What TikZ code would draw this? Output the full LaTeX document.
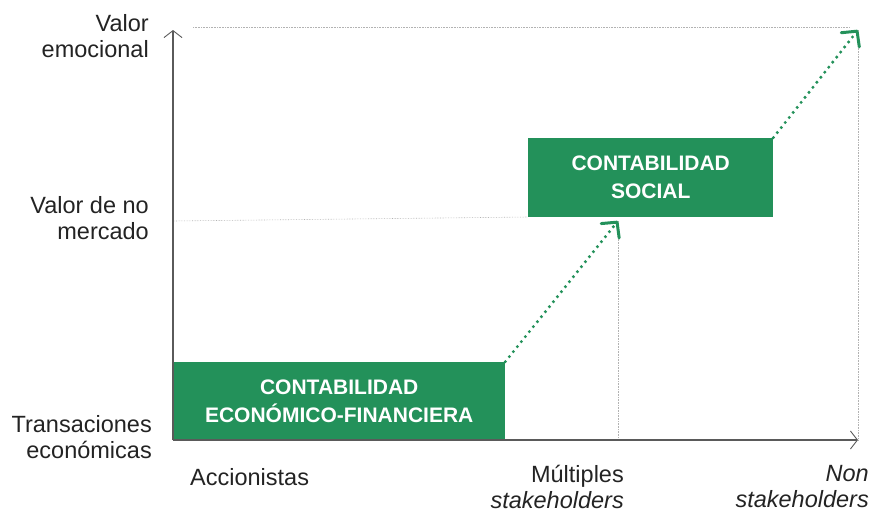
\documentclass[tikz,border=0pt]{standalone}
\usepackage{fontspec}
\setmainfont{Liberation Sans}
\usepackage{tikz}
\definecolor{Verde}{RGB}{35,145,90}
\definecolor{Texto}{RGB}{35,35,35}
\definecolor{Eje}{RGB}{90,90,90}
\usetikzlibrary{arrows.meta}

\begin{document}
\begin{tikzpicture}[x=1pt,y=-1pt,
    caja/.style={fill=Verde, text=white, font=\fontsize{21}{28}\selectfont\bfseries,
                 align=center, inner sep=0pt},
    rotulo/.style={text=Texto, font=\fontsize{23.5}{26}\selectfont, inner sep=0pt},
    guia/.style={draw=gray!60, line width=0.6pt, densely dotted},
    flecha/.style={draw=Verde, line width=3.4pt, line cap=round, dash pattern=on 0pt off 6.4pt,
                   -{Straight Barb[length=11pt, width=23pt, line width=3pt, round=false]}}]
    \useasboundingbox (0,0) rectangle (873,512);

    \coordinate (o) at (173,440);
    \coordinate (ytop) at (173,30);
    \coordinate (xend) at (858,440);
    \coordinate (p1) at (618,221);
    \coordinate (p2) at (858,30);

    \draw[guia] (193,27) -- (850,27);
    \draw[guia] (o |- p1) -- (528,217);
    \draw[guia] (p1) -- (p1 |- o);
    \draw[guia] (p2) -- (xend);

    \node[caja, minimum width=332, minimum height=78, anchor=south west] (cef) at (o)
        {CONTABILIDAD\\ECONÓMICO-FINANCIERA};
    \node[caja, minimum width=245, minimum height=79, anchor=south west] (cs) at (528,217)
        {CONTABILIDAD\\SOCIAL};

    \draw[Eje, line width=1.1pt, -{Straight Barb[length=7pt, width=18pt, line width=0.9pt]}]
        (o) -- (ytop);
    \draw[Eje, line width=1.1pt, -{Straight Barb[length=7pt, width=18pt, line width=0.9pt]}]
        (o) -- (xend);

    \draw[flecha] (cef.north east) -- (p1);
    \draw[flecha] (cs.north east) -- (p2);

    \node[rotulo, align=right, anchor=east] (ve) at (149,36) {Valor\\emocional};
    \node[rotulo, align=right, anchor=east] (vnm) at (149,218) {Valor de no\\mercado};
    \node[rotulo, align=right, anchor=east] (te) at (152,437) {Transaciones\\económicas};
    \node[rotulo, anchor=west] (acc) at (190,477) {Accionistas};
    \node[rotulo, align=right, anchor=east] (ms) at (624,487) {Múltiples\\\itshape stakeholders};
    \node[rotulo, align=right, anchor=east] (ns) at (869,487) {\itshape Non\\\itshape stakeholders};
\end{tikzpicture}
\end{document}
